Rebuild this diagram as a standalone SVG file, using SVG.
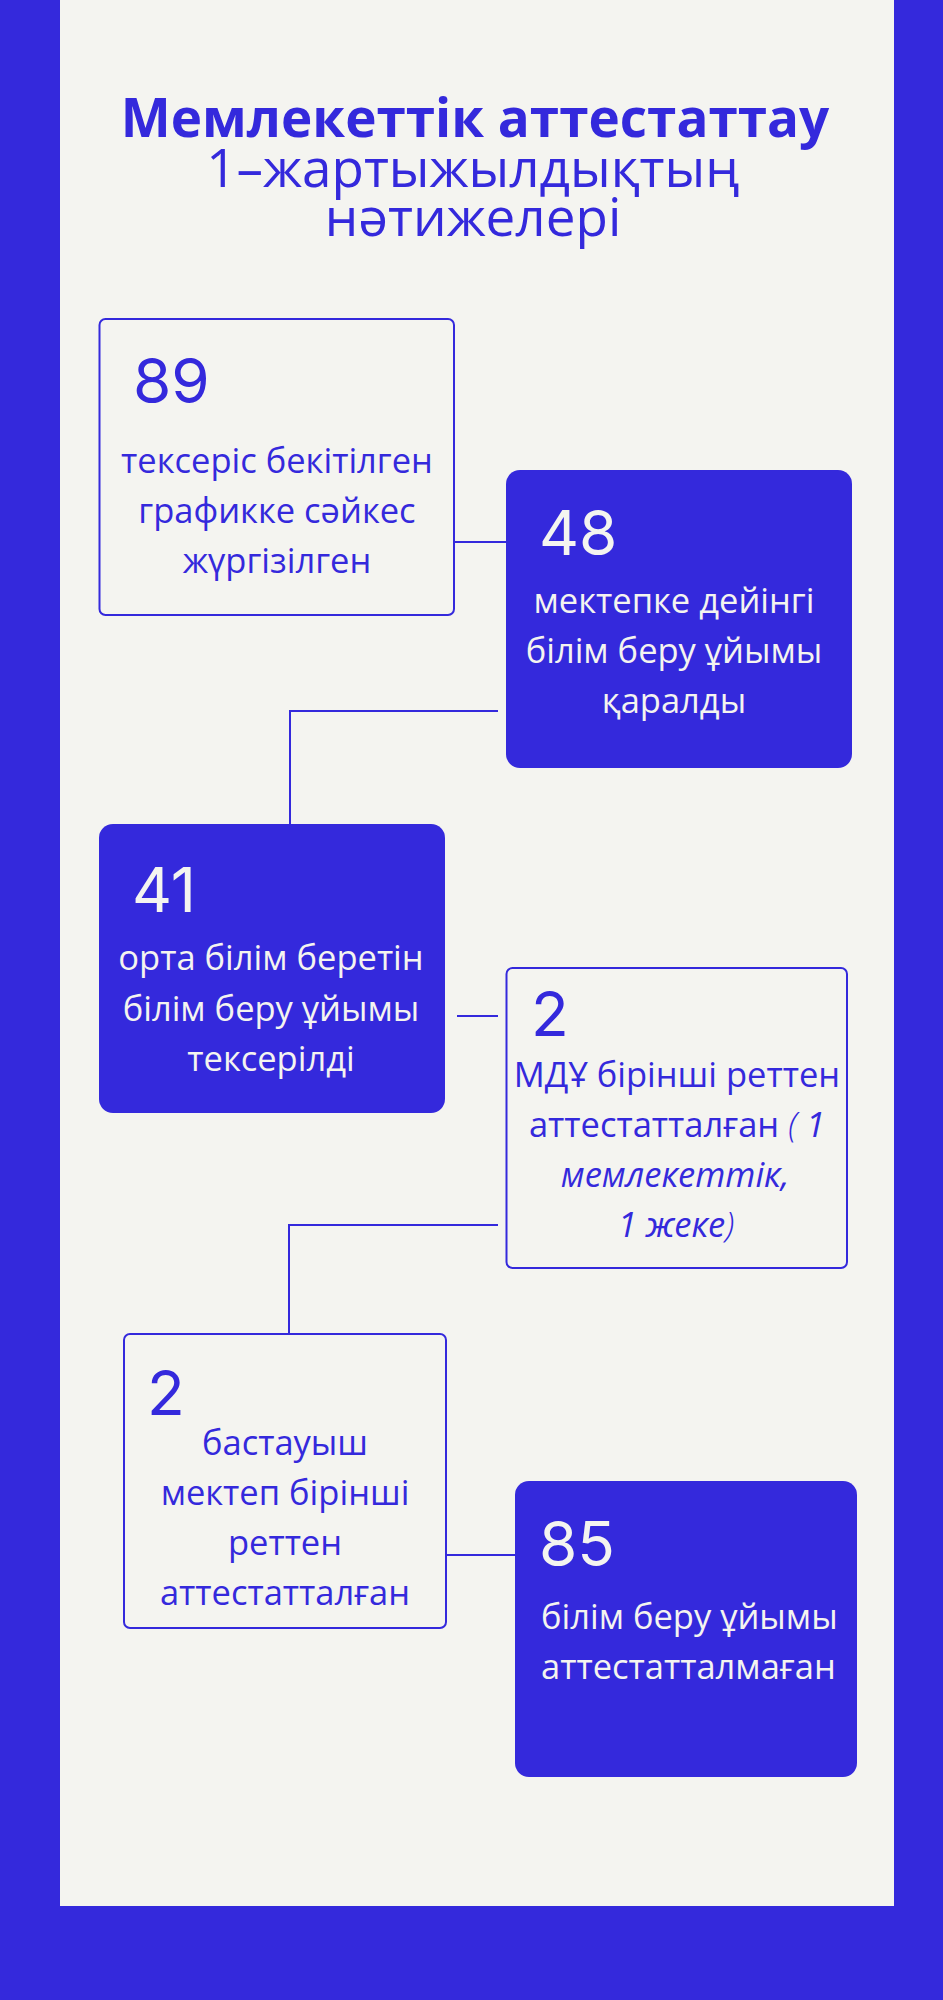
<svg xmlns="http://www.w3.org/2000/svg" width="943" height="2000" viewBox="0 0 943 2000">
<style>
.bg{fill:#3429DC}
.panel{fill:#F4F4F0}
.out{fill:#F4F4F0;stroke:#3429DC;stroke-width:2}
.fill{fill:#3429DC}
.con{fill:none;stroke:#3429DC;stroke-width:2}
.t{font-family:"Open Sans","Noto Sans",sans-serif;font-size:34.5px}
.num{font-family:Inter,Roboto,sans-serif;font-size:62px}
.blue{fill:#3429DC}
.white{fill:#F4F4F0}
.it{font-style:italic}
.paren{font-style:italic;font-weight:300}
.h1{font-family:"Open Sans","Noto Sans",sans-serif;font-weight:700;font-size:53px;fill:#3429DC}
.h2{font-family:"Open Sans","Noto Sans",sans-serif;font-size:53px;fill:#3429DC}
</style>
<rect class="bg" x="0" y="0" width="943" height="2000"/>
<rect class="panel" x="60" y="0" width="834" height="1906"/>
<g id="title">
<text class="h1" x="475" y="137" text-anchor="middle">Мемлекеттік аттестаттау</text>
<text class="h2" x="473" y="187" text-anchor="middle">1–жартыжылдықтың</text>
<text class="h2" x="473" y="236" text-anchor="middle">нәтижелері</text>
</g>
<g id="connectors">
<path class="con" d="M448 542 H506"/>
<path class="con" d="M498 711 H290 V824"/>
<path class="con" d="M457 1016 H498"/>
<path class="con" d="M498 1225 H289 V1335"/>
<path class="con" d="M446 1555 H515"/>
</g>
<g id="node1">
<rect class="out" x="99.5" y="319" width="354.5" height="296" rx="6"/>
<text class="num blue" x="133" y="403">89</text>
<text class="t blue" text-anchor="middle"><tspan x="277" y="473">тексеріс бекітілген</tspan><tspan x="277" y="523">графикке сәйкес</tspan><tspan x="277" y="573">жүргізілген</tspan></text>
</g>
<g id="node2">
<rect class="fill" x="506" y="470" width="346" height="298" rx="14"/>
<text class="num white" x="539" y="555">48</text>
<text class="t white" text-anchor="middle"><tspan x="674" y="613">мектепке дейінгі</tspan><tspan x="674" y="663">білім беру ұйымы</tspan><tspan x="674" y="713">қаралды</tspan></text>
</g>
<g id="node3">
<rect class="fill" x="99" y="824" width="346" height="289" rx="14"/>
<text class="num white" x="132" y="912">41</text>
<text class="t white" text-anchor="middle"><tspan x="271" y="970">орта білім беретін</tspan><tspan x="271" y="1021">білім беру ұйымы</tspan><tspan x="271" y="1071">тексерілді</tspan></text>
</g>
<g id="node4">
<rect class="out" x="506.5" y="968" width="340.5" height="300" rx="6"/>
<text class="num blue" x="531" y="1036">2</text>
<text class="t blue" text-anchor="middle"><tspan x="677" y="1087">МДҰ бірінші реттен</tspan><tspan x="677" y="1137">аттестатталған <tspan class="paren">(</tspan><tspan class="it"> 1</tspan></tspan><tspan class="it" x="675" y="1187">мемлекеттік,</tspan><tspan x="676" y="1237"><tspan class="it">1 жеке</tspan><tspan class="paren">)</tspan></tspan></text>
</g>
<g id="node5">
<rect class="out" x="124" y="1334" width="322" height="294" rx="6"/>
<text class="num blue" x="147" y="1415">2</text>
<text class="t blue" text-anchor="middle"><tspan x="285" y="1455">бастауыш</tspan><tspan x="285" y="1505">мектеп бірінші</tspan><tspan x="285" y="1555">реттен</tspan><tspan x="285" y="1605">аттестатталған</tspan></text>
</g>
<g id="node6">
<rect class="fill" x="515" y="1481" width="342" height="296" rx="14"/>
<text class="num white" x="539" y="1566">85</text>
<text class="t white"><tspan x="541" y="1629">білім беру ұйымы</tspan><tspan x="541" y="1679">аттестатталмаған</tspan></text>
</g>
</svg>
